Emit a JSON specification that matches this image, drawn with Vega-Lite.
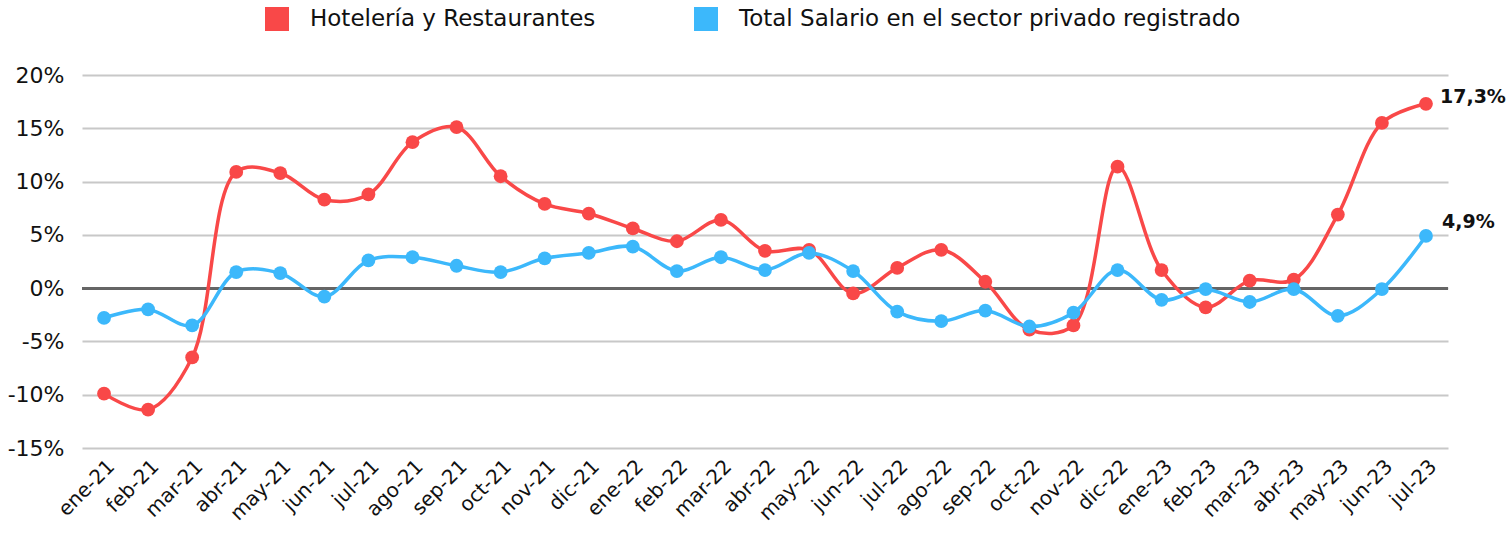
{
  "$schema": "https://vega.github.io/schema/vega-lite/v6.json",
  "width": 1366,
  "height": 373,
  "autosize": {"type": "none"},
  "padding": {"left": 82, "top": 75, "right": 61, "bottom": 90},
  "background": "white",
  "config": {
    "font": "DejaVu Sans",
    "view": {"stroke": null}
  },
  "datasets": {
    "d": [
      {"month": "ene-21", "Hotelería y Restaurantes": -9.9, "Total Salario en el sector privado registrado": -2.8},
      {"month": "feb-21", "Hotelería y Restaurantes": -11.4, "Total Salario en el sector privado registrado": -2.0},
      {"month": "mar-21", "Hotelería y Restaurantes": -6.5, "Total Salario en el sector privado registrado": -3.5},
      {"month": "abr-21", "Hotelería y Restaurantes": 10.9, "Total Salario en el sector privado registrado": 1.5},
      {"month": "may-21", "Hotelería y Restaurantes": 10.8, "Total Salario en el sector privado registrado": 1.4},
      {"month": "jun-21", "Hotelería y Restaurantes": 8.3, "Total Salario en el sector privado registrado": -0.8},
      {"month": "jul-21", "Hotelería y Restaurantes": 8.8, "Total Salario en el sector privado registrado": 2.6},
      {"month": "ago-21", "Hotelería y Restaurantes": 13.7, "Total Salario en el sector privado registrado": 2.9},
      {"month": "sep-21", "Hotelería y Restaurantes": 15.1, "Total Salario en el sector privado registrado": 2.1},
      {"month": "oct-21", "Hotelería y Restaurantes": 10.5, "Total Salario en el sector privado registrado": 1.5},
      {"month": "nov-21", "Hotelería y Restaurantes": 7.9, "Total Salario en el sector privado registrado": 2.8},
      {"month": "dic-21", "Hotelería y Restaurantes": 7.0, "Total Salario en el sector privado registrado": 3.3},
      {"month": "ene-22", "Hotelería y Restaurantes": 5.6, "Total Salario en el sector privado registrado": 3.9},
      {"month": "feb-22", "Hotelería y Restaurantes": 4.4, "Total Salario en el sector privado registrado": 1.6},
      {"month": "mar-22", "Hotelería y Restaurantes": 6.4, "Total Salario en el sector privado registrado": 2.9},
      {"month": "abr-22", "Hotelería y Restaurantes": 3.5, "Total Salario en el sector privado registrado": 1.7},
      {"month": "may-22", "Hotelería y Restaurantes": 3.6, "Total Salario en el sector privado registrado": 3.3},
      {"month": "jun-22", "Hotelería y Restaurantes": -0.5, "Total Salario en el sector privado registrado": 1.6},
      {"month": "jul-22", "Hotelería y Restaurantes": 1.9, "Total Salario en el sector privado registrado": -2.2},
      {"month": "ago-22", "Hotelería y Restaurantes": 3.6, "Total Salario en el sector privado registrado": -3.1},
      {"month": "sep-22", "Hotelería y Restaurantes": 0.6, "Total Salario en el sector privado registrado": -2.1},
      {"month": "oct-22", "Hotelería y Restaurantes": -3.9, "Total Salario en el sector privado registrado": -3.6},
      {"month": "nov-22", "Hotelería y Restaurantes": -3.5, "Total Salario en el sector privado registrado": -2.3},
      {"month": "dic-22", "Hotelería y Restaurantes": 11.4, "Total Salario en el sector privado registrado": 1.7},
      {"month": "ene-23", "Hotelería y Restaurantes": 1.7, "Total Salario en el sector privado registrado": -1.1},
      {"month": "feb-23", "Hotelería y Restaurantes": -1.8, "Total Salario en el sector privado registrado": -0.1},
      {"month": "mar-23", "Hotelería y Restaurantes": 0.7, "Total Salario en el sector privado registrado": -1.3},
      {"month": "abr-23", "Hotelería y Restaurantes": 0.8, "Total Salario en el sector privado registrado": -0.1},
      {"month": "may-23", "Hotelería y Restaurantes": 6.9, "Total Salario en el sector privado registrado": -2.6},
      {"month": "jun-23", "Hotelería y Restaurantes": 15.5, "Total Salario en el sector privado registrado": -0.1},
      {"month": "jul-23", "Hotelería y Restaurantes": 17.3, "Total Salario en el sector privado registrado": 4.9}
    ]
  },
  "data": {"name": "d"},
  "transform": [
    {"fold": ["Hotelería y Restaurantes", "Total Salario en el sector privado registrado"], "as": ["serie", "valor"]}
  ],
  "encoding": {
    "x": {
      "field": "month", "type": "ordinal", "sort": null, "title": null,
      "scale": {"type": "point", "padding": 0.5},
      "axis": {"domain": false, "ticks": false, "grid": false, "labelAngle": -45, "labelFontSize": 20, "labelColor": "#111", "labelPadding": 8}
    },
    "y": {
      "field": "valor", "type": "quantitative", "title": null,
      "scale": {"domain": [-15, 20], "nice": false, "zero": false},
      "axis": {"values": [-15, -10, -5, 0, 5, 10, 15, 20], "labelExpr": "datum.value + '%'", "domain": false, "ticks": false, "gridColor": "#c8c8c8", "gridWidth": 2, "labelFontSize": 22, "labelColor": "#111", "labelPadding": 18}
    },
    "color": {
      "field": "serie", "type": "nominal", "title": null,
      "scale": {"domain": ["Hotelería y Restaurantes", "Total Salario en el sector privado registrado"], "range": ["#f94848", "#3cb8fb"]},
      "legend": {"orient": "none", "legendX": 183, "legendY": -68, "direction": "horizontal", "symbolType": "square", "symbolSize": 576, "symbolOpacity": 1, "symbolStrokeWidth": 0, "labelFontSize": 23, "labelColor": "#111", "labelOffset": 21, "columnPadding": 98, "labelLimit": 700}
    }
  },
  "layer": [
    {"mark": {"type": "rule", "color": "#666", "strokeWidth": 2}, "encoding": {"y": {"datum": 0}, "x": null, "color": null}},
    {"mark": {"type": "line", "interpolate": "catmull-rom", "strokeWidth": 3.5}},
    {"mark": {"type": "point", "filled": true, "opacity": 1, "size": 190}},
    {
      "transform": [{"filter": "datum.month === 'jul-23' && datum.serie === 'Hotelería y Restaurantes'"}, {"calculate": "replace(format(datum.valor, '.1f'), '.', ',') + '%'", "as": "lab"}],
      "mark": {"type": "text", "align": "left", "dx": 14, "dy": -7, "fontSize": 19, "fontWeight": "bold", "color": "#111"},
      "encoding": {"text": {"field": "lab"}, "color": null}
    },
    {
      "transform": [{"filter": "datum.month === 'jul-23' && datum.serie !== 'Hotelería y Restaurantes'"}, {"calculate": "replace(format(datum.valor, '.1f'), '.', ',') + '%'", "as": "lab"}],
      "mark": {"type": "text", "align": "left", "dx": 16, "dy": -14, "fontSize": 19, "fontWeight": "bold", "color": "#111"},
      "encoding": {"text": {"field": "lab"}, "color": null}
    }
  ]
}
